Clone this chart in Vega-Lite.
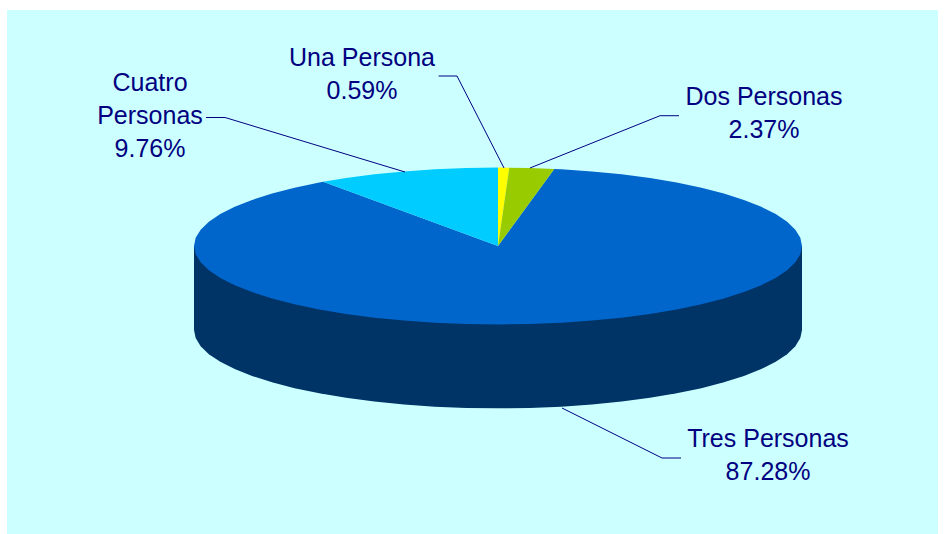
{"$schema":"https://vega.github.io/schema/vega-lite/v6.json","width":931,"height":524,"autosize":"none","padding":{"left":7,"top":10,"right":8,"bottom":0},"background":"#FFFFFF","view":{"fill":"#CCFFFF","stroke":null},
"projection":{"type":"identity","reflectY":true,"scale":304,"translate":[491,236]},
"layer":[
{"data":{"values":[
{"type":"Feature","properties":{"parte":"Tres Personas, lateral","porcentaje":87.28},"geometry":{"type":"Polygon","coordinates":[[[1,0],[1,-0.276],[0.9945,-0.303],[0.9781,-0.3296],[0.9511,-0.3557],[0.9135,-0.3809],[0.866,-0.405],[0.809,-0.4276],[0.7431,-0.4486],[0.6691,-0.4677],[0.5878,-0.4847],[0.5,-0.4994],[0.4067,-0.5117],[0.309,-0.5214],[0.2079,-0.5284],[0.1045,-0.5326],[0,-0.534],[-0.1045,-0.5326],[-0.2079,-0.5284],[-0.309,-0.5214],[-0.4067,-0.5117],[-0.5,-0.4994],[-0.5878,-0.4847],[-0.6691,-0.4677],[-0.7431,-0.4486],[-0.809,-0.4276],[-0.866,-0.405],[-0.9135,-0.3809],[-0.9511,-0.3557],[-0.9781,-0.3296],[-0.9945,-0.303],[-1,-0.276],[-1,0],[1,0]]]}},
{"type":"Feature","properties":{"parte":"Tres Personas","porcentaje":87.28},"geometry":{"type":"Polygon","coordinates":[[[0,0],[0.185,0.2536],[0.2079,0.2524],[0.309,0.2454],[0.4067,0.2357],[0.5,0.2234],[0.5878,0.2087],[0.6691,0.1917],[0.7431,0.1726],[0.809,0.1516],[0.866,0.129],[0.9135,0.1049],[0.9511,0.0797],[0.9781,0.0536],[0.9945,0.027],[1,0],[0.9945,-0.027],[0.9781,-0.0536],[0.9511,-0.0797],[0.9135,-0.1049],[0.866,-0.129],[0.809,-0.1516],[0.7431,-0.1726],[0.6691,-0.1917],[0.5878,-0.2087],[0.5,-0.2234],[0.4067,-0.2357],[0.309,-0.2454],[0.2079,-0.2524],[0.1045,-0.2566],[0,-0.258],[-0.1045,-0.2566],[-0.2079,-0.2524],[-0.309,-0.2454],[-0.4067,-0.2357],[-0.5,-0.2234],[-0.5878,-0.2087],[-0.6691,-0.1917],[-0.7431,-0.1726],[-0.809,-0.1516],[-0.866,-0.129],[-0.9135,-0.1049],[-0.9511,-0.0797],[-0.9781,-0.0536],[-0.9945,-0.027],[-1,0],[-0.9945,0.027],[-0.9781,0.0536],[-0.9511,0.0797],[-0.9135,0.1049],[-0.866,0.129],[-0.809,0.1516],[-0.7431,0.1726],[-0.6691,0.1917],[-0.5878,0.2087],[-0.575,0.2111],[0,0]]]}},
{"type":"Feature","properties":{"parte":"Cuatro Personas","porcentaje":9.76},"geometry":{"type":"Polygon","coordinates":[[[0,0],[-0.575,0.2111],[-0.5,0.2234],[-0.4067,0.2357],[-0.309,0.2454],[-0.2079,0.2524],[-0.1045,0.2566],[0,0.258],[0,0]]]}},
{"type":"Feature","properties":{"parte":"Una Persona","porcentaje":0.59},"geometry":{"type":"Polygon","coordinates":[[[0,0],[0,0.258],[0.0372,0.2578],[0,0]]]}},
{"type":"Feature","properties":{"parte":"Dos Personas","porcentaje":2.37},"geometry":{"type":"Polygon","coordinates":[[[0,0],[0.0372,0.2578],[0.1045,0.2566],[0.185,0.2536],[0,0]]]}}
]},
"mark":{"type":"geoshape","strokeWidth":0},
"encoding":{"color":{"field":"properties.parte","type":"nominal","legend":null,"sort":null,"scale":{"domain":["Tres Personas, lateral","Tres Personas","Cuatro Personas","Una Persona","Dos Personas"],"range":["#003366","#0066CC","#00CCFF","#FFFF00","#99CC00"]}}}},
{"data":{"values":[
{"type":"Feature","properties":{"parte":"Una Persona"},"geometry":{"type":"LineString","coordinates":[[-0.1954,0.5592],[-0.1349,0.5592],[0.0197,0.2566]]}},
{"type":"Feature","properties":{"parte":"Dos Personas"},"geometry":{"type":"LineString","coordinates":[[0.5954,0.4286],[0.5329,0.4286],[0.1053,0.2566]]}},
{"type":"Feature","properties":{"parte":"Tres Personas"},"geometry":{"type":"LineString","coordinates":[[0.602,-0.6974],[0.5395,-0.6974],[0.2105,-0.5329]]}},
{"type":"Feature","properties":{"parte":"Cuatro Personas"},"geometry":{"type":"LineString","coordinates":[[-0.9605,0.4227],[-0.898,0.4227],[-0.3059,0.2434]]}}
]},
"mark":{"type":"geoshape","filled":false,"stroke":"#000080","strokeWidth":1},"encoding":{}},
{"data":{"values":[
{"parte":"Una Persona","porcentaje":0.59,"etiqueta":"Una Persona\n0.59%","lon":-0.4474,"lat":0.6184},
{"parte":"Dos Personas","porcentaje":2.37,"etiqueta":"Dos Personas\n2.37%","lon":0.875,"lat":0.4908},
{"parte":"Tres Personas","porcentaje":87.28,"etiqueta":"Tres Personas\n87.28%","lon":0.8882,"lat":-0.6349},
{"parte":"Cuatro Personas","porcentaje":9.76,"etiqueta":"Cuatro\nPersonas\n9.76%","lon":-1.1447,"lat":0.5362}
]},
"mark":{"type":"text","font":"Liberation Sans","fontSize":25,"color":"#000080","align":"center","baseline":"middle","lineBreak":"\n","lineHeight":33},
"encoding":{"longitude":{"field":"lon","type":"quantitative"},"latitude":{"field":"lat","type":"quantitative"},"text":{"field":"etiqueta","type":"nominal"}}}
]}
